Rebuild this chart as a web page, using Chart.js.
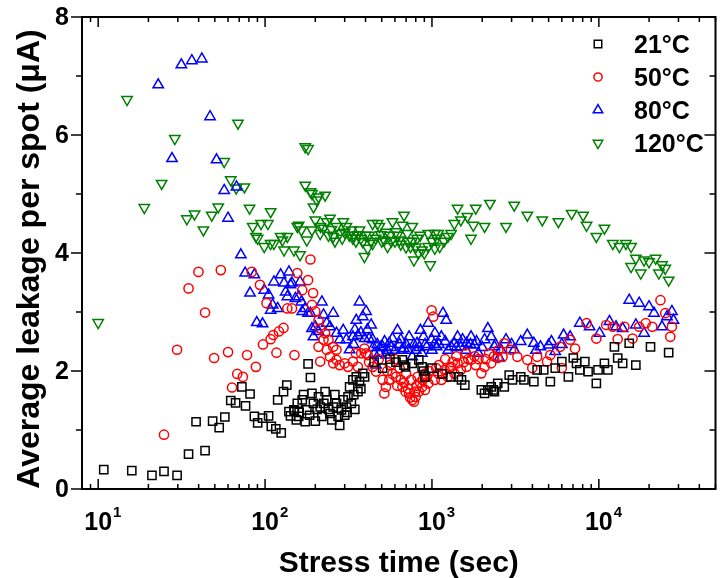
<!DOCTYPE html>
<html>
<head>
<meta charset="utf-8">
<title>Average leakage per spot vs stress time</title>
<script src="https://cdn.jsdelivr.net/npm/chart.js@4.4.1/dist/chart.umd.min.js"></script>
<style>
  html, body { margin: 0; padding: 0; background: #fff; }
</style>
</head>
<body>
<canvas id="leakChart" width="723" height="578"></canvas>
<script>
// series labels
const seriesNames = ['21°C', '50°C', '80°C', '120°C'];

// [stress time (sec), average leakage per spot (uA)]
const pts21 = [[10.8,0.33],[15.9,0.31],[21,0.23],[24.8,0.30],[29.7,0.23],[34.8,0.59],[38.6,1.14],[43.7,0.65],[48.5,1.15],[53.1,1.04],
  [57.4,1.22],[62.3,1.50],[66.6,1.46],[72.6,1.73],[76.4,1.41],[81.3,1.61],[86.3,1.23],[90.3,1.12],[96.6,1.20],[105,1.24],
  [109,1.06],[116,1.02],[119,1.51],[125,0.95],[129,1.65],[135,1.76],[139,1.31],[142,1.24],[149,1.34],[150,1.33],
  [154,1.17],[156,1.45],[159,1.23],[160,1.30],[167,1.51],[170,1.60],[174,1.14],[178,1.34],[181,2.12],[185,1.25],
  [187,1.89],[191,1.62],[195,1.45],[200,1.15],[205,1.35],[209,1.56],[214,1.39],[219,1.23],[225,1.45],[229,1.65],
  [234,1.51],[240,1.35],[245,1.28],[251,1.17],[256,1.39],[262,1.60],[268,1.45],[274,1.23],[280,1.08],[287,1.34],
  [294,1.51],[300,1.25],[307,1.39],[310,1.30],[314,1.56],[321,1.73],[329,1.45],[336,1.85],[340,1.60],[345,1.35],
  [352,1.90],[360,1.65],[368,1.82],[375,1.70],[385,1.96],[395,1.90],[450,2.15],[506,2.05],[560,2.20],[609,2.15],
  [665,2.19],[680,2.10],[695,2.07],[762,2.13],[834,2.19],[873,2.07],[890,2.00],[908,1.90],[1000,2.05],[1150,1.95],
  [1300,1.90],[1440,1.90],[1503,1.85],[1574,1.76],[1977,1.68],[2067,1.62],[2163,1.68],[2264,1.73],[2330,1.68],[2368,1.65],
  [2478,1.79],[2712,1.73],[2904,1.93],[3037,1.85],[3404,1.90],[3559,1.85],[4080,1.82],[4270,2.02],[4675,2.02],[5120,1.82],
  [5480,2.05],[6000,2.16],[6570,1.90],[7030,2.22],[7350,2.13],[7690,2.02],[8240,2.16],[8620,1.99],[9660,1.79],[9890,2.02],
  [10800,2.13],[11330,2.02],[12400,2.41],[12970,2.22],[13890,2.13],[15200,2.47],[16660,2.10],[20400,2.41],[26200,2.31]];

const pts50 = [[24.8,0.92],[29.7,2.36],[34.8,3.40],[39.9,3.68],[43.7,2.99],[49.5,2.22],[54.3,3.71],[60,2.32],[63.4,1.72],[68.1,1.95],
  [73.6,1.90],[78,2.27],[83.2,3.68],[88.1,2.07],[93.2,3.46],[97.2,2.45],[102,3.15],[108,2.54],[112,2.61],[117,2.31],
  [121,2.67],[129,2.73],[136,3.06],[145,3.06],[150,2.27],[156,3.66],[167,3.37],[181,3.54],[187,3.89],[191,3.12],
  [194,3.32],[200,3.01],[209,2.86],[209,2.41],[214,2.72],[214,2.16],[224,2.53],[229,2.64],[234,2.36],[240,2.53],
  [245,2.24],[256,2.13],[256,2.41],[268,2.19],[268,2.36],[280,2.10],[300,2.13],[314,2.07],[336,2.16],[350,2.30],
  [360,2.07],[377,2.30],[394,2.38],[403,2.30],[412,2.27],[420,2.15],[441,2.07],[462,1.99],[480,2.20],[506,1.85],
  [518,1.62],[530,1.73],[540,2.00],[555,1.85],[560,2.10],[580,1.95],[600,2.20],[609,1.90],[620,1.75],[640,2.05],
  [650,1.85],[665,1.73],[680,1.80],[695,1.65],[700,1.95],[720,1.70],[730,1.62],[740,1.55],[750,1.85],[762,1.51],
  [780,1.48],[790,1.65],[798,1.56],[810,1.75],[820,1.90],[834,1.65],[850,1.80],[873,1.73],[880,1.85],[900,1.95],
  [908,1.68],[930,1.90],[950,1.79],[960,2.00],[995,3.03],[1018,2.92],[1041,1.85],[1060,2.05],[1089,1.96],[1100,2.10],
  [1139,1.85],[1160,1.95],[1190,2.02],[1200,2.20],[1245,1.90],[1280,2.05],[1303,2.07],[1330,2.15],[1362,1.96],[1400,2.25],
  [1424,2.13],[1490,2.02],[1550,2.15],[1600,2.30],[1610,2.07],[1650,2.20],[1715,2.19],[1800,2.25],[1830,2.10],[1900,2.20],
  [1977,1.96],[2067,2.07],[2100,2.20],[2200,2.30],[2264,2.13],[2350,2.25],[2478,2.22],[2500,2.35],[2650,2.24],[2712,2.47],
  [2975,2.36],[3250,2.24],[3726,2.19],[3990,2.05],[4270,2.24],[4890,2.16],[5120,2.27],[5860,2.41],[6000,2.05],[6730,2.53],
  [7200,2.38],[8440,2.81],[9660,2.55],[11070,2.78],[12130,2.75],[12970,2.54],[14230,2.75],[15920,2.55],[17440,2.75],[19100,2.81],
  [20900,2.75],[23400,3.20],[25000,2.98],[26800,2.58],[27400,2.75]];

const pts80 = [[22.9,6.85],[27.7,5.60],[31.5,7.19],[36.4,7.26],[41.8,7.29],[46.8,6.31],[51.2,5.58],[56.9,5.06],[60,4.59],[67.4,5.12],
  [71.6,3.97],[76,3.66],[81.3,3.32],[86.3,3.63],[89.2,2.82],[96.6,2.80],[98.9,3.37],[105,3.29],[108,3.03],[111,3.12],
  [113,3.51],[119,3.06],[124,3.63],[130,3.49],[133,3.34],[136,3.26],[139,3.68],[142,3.46],[145,3.49],[152,3.23],
  [159,3.26],[162,3.51],[165,3.17],[167,3.01],[174,3.06],[181,2.98],[187,2.98],[191,2.72],[195,2.58],[200,2.75],
  [209,2.67],[219,3.17],[224,2.95],[234,2.81],[245,2.75],[256,2.98],[268,2.64],[280,2.53],[294,2.69],[307,2.53],
  [321,2.36],[336,2.58],[340,2.45],[345,2.70],[352,2.86],[360,2.60],[368,3.17],[375,2.65],[385,2.92],[395,2.55],
  [403,3.01],[410,2.70],[420,2.55],[432,2.78],[441,2.53],[445,2.40],[452,2.30],[462,2.10],[470,2.45],[484,2.30],
  [490,2.40],[506,2.41],[520,2.50],[530,2.27],[540,2.35],[555,2.47],[570,2.40],[580,2.55],[600,2.35],[622,2.69],
  [640,2.45],[650,2.53],[660,2.35],[680,2.38],[700,2.45],[720,2.35],[730,2.58],[762,2.24],[780,2.45],[800,2.35],
  [815,2.47],[840,2.40],[853,2.69],[870,2.30],[890,2.58],[910,2.45],[930,2.41],[950,2.81],[995,2.53],[1000,2.35],
  [1030,2.45],[1041,2.64],[1066,2.41],[1100,2.45],[1139,2.58],[1164,2.98],[1200,2.50],[1217,2.86],[1250,2.35],[1303,2.41],
  [1362,2.47],[1400,2.40],[1424,2.58],[1490,2.41],[1525,2.53],[1600,2.35],[1610,2.47],[1700,2.45],[1715,2.58],[1795,2.44],
  [1850,2.50],[1895,2.30],[2000,2.40],[2067,2.53],[2163,2.72],[2264,2.58],[2368,2.41],[2400,2.45],[2530,2.22],[2590,2.36],
  [2777,2.53],[3000,2.45],[3110,2.36],[3404,2.50],[3726,2.61],[4080,2.47],[4200,2.35],[4470,2.41],[5000,2.44],[5200,2.50],
  [5480,2.33],[6000,2.45],[6150,2.61],[6730,2.58],[7690,2.81],[8810,2.75],[10100,2.64],[11580,2.84],[12680,2.75],[13890,2.72],
  [15200,3.20],[16660,2.78],[17440,3.15],[18660,2.64],[19980,3.09],[21400,2.98],[23900,2.75],[25600,2.92],[27400,3.01],[28000,2.86]];

const pts120 = [[10.0,2.82],[14.9,6.60],[18.9,4.77],[24.0,5.18],[28.8,5.94],[34.0,4.58],[37.8,4.66],[42.7,4.39],[47.9,4.64],[52.4,4.78],
  [56.9,5.55],[62.3,5.24],[67.2,5.10],[68.8,6.20],[75.2,5.12],[80.7,4.76],[84.3,4.45],[88.1,4.28],[90.3,4.25],[94.6,4.50],
  [98.9,4.11],[104,4.50],[108,4.70],[108,4.16],[113,4.16],[124,4.28],[127,4.22],[130,4.05],[136,4.28],[149,4.05],
  [156,4.45],[159,4.47],[162,3.97],[165,4.39],[174,5.80],[174,5.15],[178,4.22],[181,5.77],[187,5.04],[191,5.01],
  [191,4.39],[195,4.78],[200,4.56],[204,4.90],[209,4.95],[214,4.33],[215,4.45],[224,4.42],[229,4.98],[234,4.53],
  [240,4.30],[245,4.59],[250,4.40],[256,4.28],[262,4.20],[268,4.45],[280,4.33],[290,4.25],[294,4.53],[300,4.35],
  [307,4.45],[320,4.30],[329,4.39],[336,4.25],[340,4.30],[350,4.20],[360,4.31],[368,4.39],[375,4.25],[385,4.19],
  [394,3.94],[400,4.30],[412,4.08],[420,4.30],[430,4.20],[441,4.16],[441,4.50],[460,4.25],[472,4.50],[484,4.45],
  [494,4.31],[500,4.20],[518,4.22],[530,4.35],[542,4.11],[560,4.30],[570,4.20],[580,4.53],[600,4.20],[609,4.36],
  [620,4.30],[637,4.22],[650,4.15],[665,4.47],[680,4.64],[700,4.10],[712,4.33],[720,4.20],[744,4.11],[760,4.20],
  [762,4.45],[780,3.88],[800,4.10],[815,4.25],[830,4.00],[850,4.30],[873,4.05],[900,4.00],[950,4.11],[950,4.33],
  [977,3.80],[1000,4.20],[1041,4.08],[1041,4.33],[1070,4.25],[1089,4.33],[1114,4.11],[1180,4.20],[1245,4.28],[1303,4.33],
  [1362,4.50],[1424,4.76],[1490,4.56],[1630,4.62],[1715,4.25],[1770,4.47],[1830,4.76],[2067,4.45],[2225,4.84],[2777,4.45],
  [3110,4.81],[3726,4.64],[4580,4.56],[5720,4.53],[6870,4.67],[8050,4.64],[8440,4.47],[9660,4.28],[10800,4.42],[12130,4.16],
  [13280,4.11],[14530,4.16],[15600,4.11],[15600,3.77],[16660,3.91],[17840,3.66],[18660,3.88],[19980,3.85],[21900,3.91],[22900,3.66],
  [23900,3.80],[25000,3.74],[26200,3.54]];

// axes
const xMin = 8, xMax = 5e4;
const yMin = 0, yMax = 8;
const yTickLabels = [0, 2, 4, 6, 8];
const xDecades = [1, 2, 3, 4];

const toXY = arr => arr.map(p => ({ x: p[0], y: p[1] }));
const FONT = '"Liberation Sans", Arial, Helvetica, sans-serif';

const markers = [
  { color: '#000000', style: 'rect', radius: 5.8, rotation: 0 },
  { color: '#ff0000', style: 'circle', radius: 4.6, rotation: 0 },
  { color: '#0000ff', style: 'triangle', radius: 6, rotation: 0 },
  { color: '#008000', style: 'triangle', radius: 6, rotation: 180 }
];
const allPts = [pts21, pts50, pts80, pts120];

// frame, ticks, tick labels, titles and legend
const framePlugin = {
  id: 'frame',
  afterDatasetsDraw(chart) {
    const { ctx, chartArea: a, scales } = chart;
    const xs = scales.x, ys = scales.y;
    ctx.save();
    ctx.strokeStyle = '#000';
    ctx.fillStyle = '#000';
    ctx.lineWidth = 2;
    ctx.strokeRect(a.left, a.top, a.right - a.left, a.bottom - a.top);

    ctx.lineWidth = 1.5;
    const seg = (x1, y1, x2, y2) => { ctx.beginPath(); ctx.moveTo(x1, y1); ctx.lineTo(x2, y2); ctx.stroke(); };

    // y ticks: outward on the left, inward on the right
    for (let v = yMin; v <= yMax; v++) {
      const py = ys.getPixelForValue(v);
      const len = v % 2 === 0 ? 11 : 6;
      seg(a.left - len, py, a.left, py);
      seg(a.right - len, py, a.right, py);
    }
    // x ticks: inward top and bottom
    for (let d = 0; d <= 4; d++) {
      for (let m = 1; m <= 9; m++) {
        const v = m * Math.pow(10, d);
        if (v < xMin || v > xMax) continue;
        const px = xs.getPixelForValue(v);
        const len = m === 1 ? 10 : 5;
        seg(px, a.bottom, px, a.bottom - len);
        seg(px, a.top, px, a.top + len);
      }
    }

    // y tick labels
    ctx.font = 'bold 25px ' + FONT;
    ctx.textAlign = 'right';
    ctx.textBaseline = 'middle';
    yTickLabels.forEach(v => ctx.fillText(String(v), a.left - 13, ys.getPixelForValue(v) + 1));

    // x tick labels 10^n
    ctx.textBaseline = 'alphabetic';
    xDecades.forEach(n => {
      const px = xs.getPixelForValue(Math.pow(10, n));
      ctx.font = 'bold 25px ' + FONT;
      ctx.textAlign = 'left';
      const w = ctx.measureText('10').width;
      ctx.fillText('10', px - w / 2, a.bottom + 41);
      ctx.font = 'bold 15px ' + FONT;
      ctx.fillText(String(n), px + w / 2 + 1, a.bottom + 28);
    });

    // axis titles
    ctx.font = 'bold 30px ' + FONT;
    ctx.textAlign = 'center';
    ctx.fillText('Stress time (sec)', (a.left + a.right) / 2, 572);
    ctx.save();
    ctx.font = 'bold 32px ' + FONT;
    ctx.translate(39, 259);
    ctx.rotate(-Math.PI / 2);
    ctx.fillText('Average leakage per spot (\u03bcA)', 0, 0);
    ctx.restore();

    // legend
    ctx.font = 'bold 25px ' + FONT;
    ctx.textAlign = 'left';
    ctx.textBaseline = 'middle';
    seriesNames.forEach((name, i) => {
      const ly = 44 + i * 33;
      const mk = markers[i];
      ctx.strokeStyle = mk.color;
      ctx.fillStyle = 'rgba(0,0,0,0)';
      ctx.lineWidth = 1.5;
      Chart.helpers.drawPoint(ctx, { pointStyle: mk.style, radius: mk.radius - 0.5, rotation: mk.rotation, borderWidth: 1.5 }, 598, ly);
      ctx.fillStyle = '#000';
      ctx.fillText(name, 634, ly + 2);
    });
    ctx.restore();
  }
};

new Chart(document.getElementById('leakChart'), {
  type: 'scatter',
  data: {
    datasets: allPts.map((pts, i) => ({
      label: seriesNames[i],
      data: toXY(pts),
      pointStyle: markers[i].style,
      pointRadius: markers[i].radius,
      pointHoverRadius: markers[i].radius,
      pointRotation: markers[i].rotation,
      pointBorderWidth: 1.5,
      borderColor: markers[i].color,
      backgroundColor: 'rgba(0,0,0,0)'
    }))
  },
  options: {
    responsive: false,
    animation: false,
    events: [],
    layout: { padding: { left: 82, right: 1, top: 17, bottom: 89 } },
    plugins: { legend: { display: false }, tooltip: { enabled: false } },
    scales: {
      x: { type: 'logarithmic', min: xMin, max: xMax, display: false },
      y: { type: 'linear', min: yMin, max: yMax, display: false }
    }
  },
  plugins: [framePlugin]
});
</script>
</body>
</html>
